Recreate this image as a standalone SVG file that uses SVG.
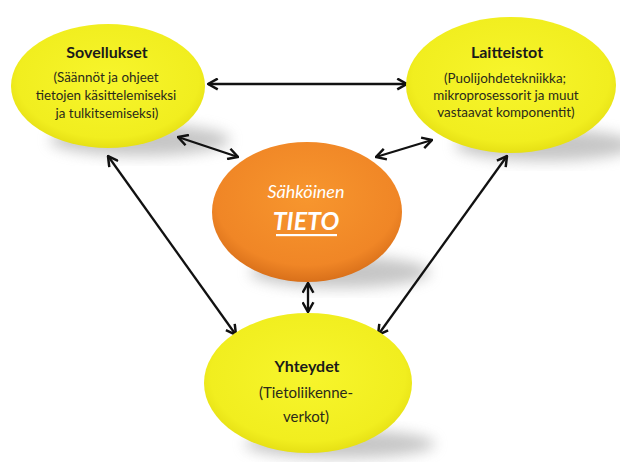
<svg xmlns="http://www.w3.org/2000/svg" width="620" height="462" viewBox="0 0 620 462">
<style>
.conn{stroke:#111;stroke-width:2.3;fill:none;marker-start:url(#ah);marker-end:url(#ah)}
.title{font-family:Lato,"Liberation Sans",sans-serif;font-weight:bold;font-size:16px;fill:#1a1a1a;text-anchor:middle}
.sub{font-family:Lato,"Liberation Sans",sans-serif;font-size:13.4px;fill:#2a2a1a;text-anchor:middle}
.yel{fill:url(#gy)}
.shadow{fill:#999;opacity:0.55;filter:url(#blur)}
</style>
<defs>
<marker id="ah" viewBox="0 0 12 12" refX="11" refY="6" markerWidth="13" markerHeight="13" markerUnits="userSpaceOnUse" orient="auto-start-reverse">
<path d="M2,1 L11,6 L2,11" fill="none" stroke="#111" stroke-width="2.3"/>
</marker>
<radialGradient id="gy" cx="0.5" cy="0.45" r="0.55">
<stop offset="0" stop-color="#f7f52c"/>
<stop offset="0.85" stop-color="#f1ee1f"/>
<stop offset="1" stop-color="#e6e015"/>
</radialGradient>
<radialGradient id="go" cx="0.5" cy="0.4" r="0.6">
<stop offset="0" stop-color="#f7962e"/>
<stop offset="0.8" stop-color="#f08626"/>
<stop offset="1" stop-color="#d9701a"/>
</radialGradient>
<filter id="blur" x="-30%" y="-30%" width="160%" height="160%"><feGaussianBlur stdDeviation="7"/></filter>
</defs>
<rect width="620" height="462" fill="#fff"/>
<g id="shadows">
<ellipse class="shadow" cx="140" cy="140" rx="90" ry="16"/>
<ellipse class="shadow" cx="545" cy="145" rx="90" ry="16"/>
<ellipse class="shadow" cx="340" cy="272" rx="90" ry="16"/>
<ellipse class="shadow" cx="340" cy="444" rx="95" ry="14"/>
</g>
<g id="connectors">
<line class="conn" x1="208" y1="84" x2="407" y2="84"/>
<line class="conn" x1="178" y1="137" x2="238" y2="157"/>
<line class="conn" x1="432" y1="140" x2="376" y2="157"/>
<line class="conn" x1="108" y1="156" x2="236" y2="335"/>
<line class="conn" x1="507" y1="156" x2="378" y2="335"/>
<line class="conn" x1="308" y1="283" x2="308" y2="312"/>
</g>
<g id="sovellukset">
<ellipse class="yel" cx="108" cy="86" rx="97" ry="62"/>
<text class="title" x="107" y="58">Sovellukset</text>
<text class="sub" x="106" y="82">(Säännöt  ja ohjeet</text>
<text class="sub" x="106" y="100">tietojen käsittelemiseksi</text>
<text class="sub" x="107" y="118">ja tulkitsemiseksi)</text>
</g>
<g id="laitteistot">
<ellipse class="yel" cx="511" cy="85" rx="105" ry="68"/>
<text class="title" x="507" y="58">Laitteistot</text>
<text class="sub" x="505" y="83">(Puolijohdetekniikka;</text>
<text class="sub" x="506" y="100">mikroprosessorit  ja muut</text>
<text class="sub" x="506" y="117">vastaavat komponentit)</text>
</g>
<g id="tieto">
<ellipse fill="url(#go)" cx="307" cy="212" rx="95" ry="70"/>
<text x="306" y="198" font-family="Lato,'Liberation Sans',sans-serif" font-style="italic" font-size="18" fill="#fff" text-anchor="middle">Sähköinen</text>
<text x="306" y="230" font-family="Lato,'Liberation Sans',sans-serif" font-style="italic" font-weight="bold" font-size="25" fill="#fff" text-anchor="middle">TIETO</text>
<rect x="276" y="234" width="61" height="2.2" fill="#fff"/>
</g>
<g id="yhteydet">
<ellipse class="yel" cx="308" cy="383" rx="104" ry="70"/>
<text class="title" x="307" y="372">Yhteydet</text>
<text class="sub" x="306" y="398" style="font-size:15px">(Tietoliikenne-</text>
<text class="sub" x="306" y="422" style="font-size:15px">verkot)</text>
</g>
</svg>
